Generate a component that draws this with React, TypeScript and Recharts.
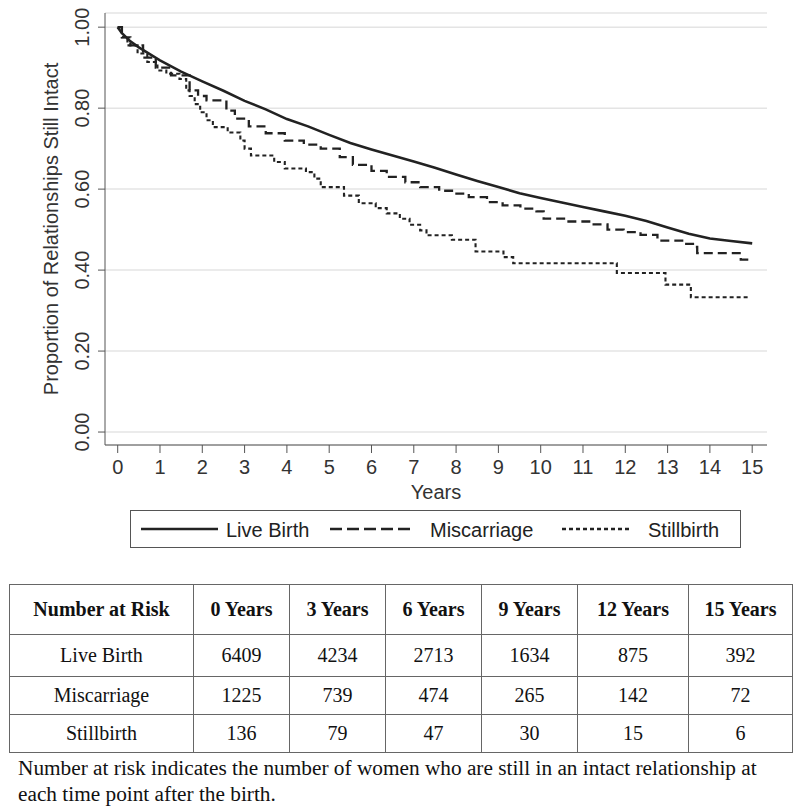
import * as React from 'react';
import { LineChart, Line, XAxis, YAxis, CartesianGrid, Legend, Label } from 'recharts';

// Kaplan-Meier estimates (years, proportion intact)
const liveYears = [0, 0.1, 0.3, 0.5, 1, 1.5, 2, 2.5, 3, 3.5, 4, 4.5, 5, 5.5, 6, 6.5, 7, 7.5, 8, 8.5, 9, 9.5, 10, 10.5, 11, 11.5, 12, 12.5, 13, 13.5, 14, 14.5, 15];
const liveValues = [1, 0.985, 0.965, 0.95, 0.918, 0.89, 0.866, 0.843, 0.818, 0.797, 0.773, 0.755, 0.734, 0.714, 0.698, 0.683, 0.668, 0.653, 0.636, 0.62, 0.605, 0.59, 0.578, 0.567, 0.556, 0.545, 0.534, 0.521, 0.505, 0.49, 0.478, 0.472, 0.466];

const miscYears = [0, 0.1, 0.3, 0.6, 0.9, 1.26, 1.7, 1.9, 2.1, 2.57, 2.77, 3.1, 3.5, 3.95, 4.4, 4.8, 5.25, 5.56, 6, 6.36, 6.8, 7.15, 7.6, 7.94, 8.3, 8.73, 9.1, 9.52, 9.9, 10.07, 10.6, 11.18, 11.58, 11.96, 12.36, 12.76, 13.4, 13.6, 13.7, 14.73, 15];
const miscValues = [1, 0.975, 0.955, 0.925, 0.9, 0.881, 0.844, 0.83, 0.819, 0.794, 0.774, 0.755, 0.738, 0.72, 0.71, 0.7, 0.679, 0.66, 0.645, 0.63, 0.617, 0.605, 0.596, 0.589, 0.58, 0.568, 0.56, 0.552, 0.545, 0.527, 0.52, 0.513, 0.5, 0.494, 0.487, 0.473, 0.465, 0.457, 0.442, 0.426, 0.426];

const stillYears = [0, 0.1, 0.23, 0.47, 0.7, 0.94, 1.15, 1.46, 1.62, 1.7, 1.82, 1.95, 2.1, 2.25, 2.6, 2.9, 3, 3.15, 3.7, 3.95, 4.45, 4.65, 4.8, 5.35, 5.7, 6.1, 6.36, 6.67, 6.9, 7.15, 7.3, 7.9, 8.46, 9.12, 9.35, 11.8, 12.95, 13.55, 14.92];
const stillValues = [1, 0.975, 0.955, 0.935, 0.914, 0.893, 0.885, 0.872, 0.844, 0.83, 0.81, 0.79, 0.77, 0.753, 0.74, 0.72, 0.7, 0.683, 0.667, 0.651, 0.642, 0.626, 0.605, 0.584, 0.565, 0.553, 0.54, 0.527, 0.512, 0.498, 0.486, 0.475, 0.446, 0.432, 0.417, 0.393, 0.364, 0.333, 0.333];

const xTicks = [0, 1, 2, 3, 4, 5, 6, 7, 8, 9, 10, 11, 12, 13, 14, 15];
const yTicks = [0, 0.2, 0.4, 0.6, 0.8, 1];

const tableHeader = ['Number at Risk', '0 Years', '3 Years', '6 Years', '9 Years', '12 Years', '15 Years'];
const riskGroups = ['Live Birth', 'Miscarriage', 'Stillbirth'];
const riskLive = [6409, 4234, 2713, 1634, 875, 392];
const riskMisc = [1225, 739, 474, 265, 142, 72];
const riskStill = [136, 79, 47, 30, 15, 6];

const toRows = (ts: number[], vs: number[]) => ts.map((t, i) => ({ t, v: vs[i] }));

const SANS = '"Liberation Sans", Arial, sans-serif';
const SERIF = '"Liberation Serif", "Times New Roman", serif';
const INK = '#222';

const YTick = (props: any) => {
    const { x, y, payload } = props;
    const bx = x - 7;
    return (
        <text x={bx} y={y} transform={`rotate(-90 ${bx} ${y})`} textAnchor="middle" fill="#333" fontSize={20} fontFamily={SANS}>
            {payload.value.toFixed(2)}
        </text>
    );
};

const YTitle = (props: any) => {
    const vb = props.viewBox;
    const cy = vb.y + vb.height / 2;
    return (
        <text x={58} y={cy} transform={`rotate(-90 58 ${cy})`} textAnchor="middle" fill="#333" fontSize={20} fontFamily={SANS}>
            Proportion of Relationships Still Intact
        </text>
    );
};

const XTitle = (props: any) => {
    const vb = props.viewBox;
    return (
        <text x={vb.x + vb.width / 2} y={499} textAnchor="middle" fill="#333" fontSize={20} fontFamily={SANS}>
            Years
        </text>
    );
};

const legendItems = [
    { name: 'Live Birth', dash: undefined, x1: 11, x2: 88, tx: 96 },
    { name: 'Miscarriage', dash: '12 5', x1: 200, x2: 282, tx: 300 },
    { name: 'Stillbirth', dash: '4 3', x1: 432, x2: 500, tx: 518 },
];

const BoxLegend = () => (
    <svg width={611} height={38} style={{ display: 'block' }}>
        <rect x={0.5} y={0.5} width={610} height={37} fill="#fff" stroke="#555" />
        {legendItems.map((it) => (
            <g key={it.name}>
                <line x1={it.x1} x2={it.x2} y1={19} y2={19} stroke={INK} strokeWidth={2.5} strokeDasharray={it.dash} />
                <text x={it.tx} y={27} fill={INK} fontSize={20} fontFamily={SANS}>{it.name}</text>
            </g>
        ))}
    </svg>
);

const cell: React.CSSProperties = { border: '1px solid #666', textAlign: 'center', padding: 0 };

export default function App() {
    const riskRows = [riskLive, riskMisc, riskStill];
    const rowHeights = [42, 38, 38];
    return (
        <div style={{ position: 'absolute', left: 0, top: 0, width: 800, height: 810, background: '#fff' }}>
            <LineChart width={800} height={548} margin={{ top: 13, right: 33, left: 0, bottom: 0 }}>
                <CartesianGrid vertical={false} stroke="#e4e4e4" strokeWidth={1.5} />
                <XAxis
                    type="number"
                    dataKey="t"
                    domain={[-0.3, 15.35]}
                    ticks={xTicks}
                    height={65}
                    tickSize={8}
                    tickMargin={7}
                    stroke="#555"
                    tick={{ fill: '#333', fontSize: 20, fontFamily: SANS }}
                >
                    <Label content={<XTitle />} />
                </XAxis>
                <YAxis
                    type="number"
                    domain={[-0.032, 1.035]}
                    ticks={yTicks}
                    width={105}
                    tickSize={7}
                    tickMargin={2}
                    stroke="#555"
                    tick={<YTick />}
                >
                    <Label content={<YTitle />} />
                </YAxis>
                <Line data={toRows(liveYears, liveValues)} dataKey="v" name="Live Birth" type="linear" stroke={INK} strokeWidth={2.6} dot={false} isAnimationActive={false} />
                <Line data={toRows(miscYears, miscValues)} dataKey="v" name="Miscarriage" type="stepAfter" stroke={INK} strokeWidth={2.3} strokeDasharray="9 5" dot={false} isAnimationActive={false} />
                <Line data={toRows(stillYears, stillValues)} dataKey="v" name="Stillbirth" type="stepAfter" stroke={INK} strokeWidth={2.1} strokeDasharray="4 3" dot={false} isAnimationActive={false} />
                <Legend verticalAlign="bottom" height={38} wrapperStyle={{ left: 130, width: 611, bottom: 0 }} content={<BoxLegend />} />
            </LineChart>

            <table style={{ position: 'absolute', left: 9, top: 584, width: 783, borderCollapse: 'collapse', fontFamily: SERIF, color: '#111', fontSize: 20, tableLayout: 'fixed' }}>
                <colgroup>
                    {[184, 96, 96, 96, 96, 111, 104].map((w, i) => <col key={i} style={{ width: w }} />)}
                </colgroup>
                <tbody>
                    <tr style={{ height: 50 }}>
                        {tableHeader.map((h) => <td key={h} style={{ ...cell, fontWeight: 'bold' }}>{h}</td>)}
                    </tr>
                    {riskGroups.map((g, r) => (
                        <tr key={g} style={{ height: rowHeights[r] }}>
                            <td style={cell}>{g}</td>
                            {riskRows[r].map((n, i) => <td key={i} style={cell}>{n}</td>)}
                        </tr>
                    ))}
                </tbody>
            </table>

            <div style={{ position: 'absolute', left: 18, top: 755, fontFamily: SERIF, fontSize: 21.3, lineHeight: '26px', color: '#111', whiteSpace: 'nowrap' }}>
                Number at risk indicates the number of women who are still in an intact relationship at
                <br />
                each time point after the birth.
            </div>
        </div>
    );
}
